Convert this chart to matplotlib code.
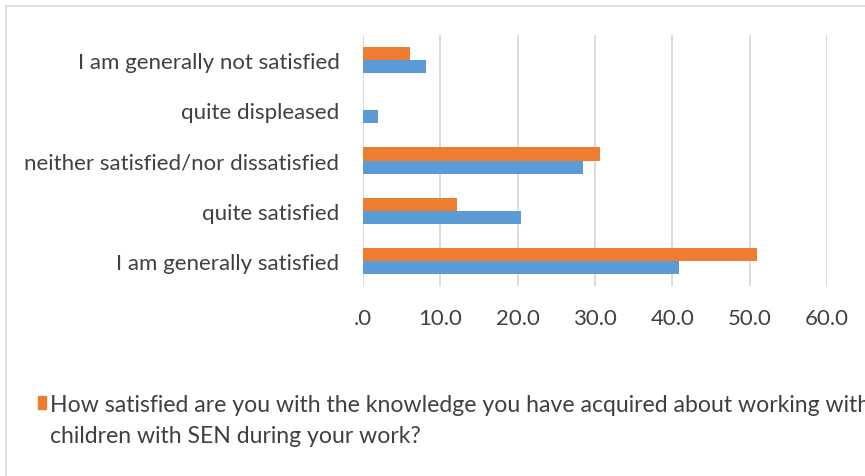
import numpy as np
import matplotlib
matplotlib.use('Agg')
import matplotlib.pyplot as plt
from matplotlib.patches import Rectangle
from matplotlib.lines import Line2D

plt.rcParams['font.family'] = ['Lato', 'DejaVu Sans']

# data (bottom to top as drawn)
categories = ['I am generally satisfied', 'quite satisfied',
              'neither satisfied/nor dissatisfied', 'quite displeased',
              'I am generally not satisfied']
orange_vals = [51.0, 12.2, 30.6, 0.0, 6.1]
blue_vals = [40.8, 20.4, 28.5, 2.0, 8.1]
xticks = [0, 10, 20, 30, 40, 50, 60]
xtick_labels = ['.0', '10.0', '20.0', '30.0', '40.0', '50.0', '60.0']
legend_lines = ['How satisfied are you with the knowledge you have acquired about working with',
                'children with SEN during your work?']

W, H = 865, 477
fig = plt.figure(figsize=(W / 100, H / 100), dpi=100)
ax = fig.add_axes([363 / W, 1 - 287 / H, (827 - 363) / W, (287 - 36) / H])

y = np.arange(len(categories))
h = 0.26
ax.barh(y - h / 2, blue_vals, height=h, color='#5B9BD5', zorder=3)
ax.barh(y + h / 2, orange_vals, height=h, color='#ED7D31', zorder=3)

ax.set_xlim(0, 60)
ax.set_ylim(-0.5, 4.5)
ax.set_xticks(xticks)
ax.set_xticklabels(xtick_labels)
ax.set_yticks(y)
ax.set_yticklabels(categories)
ax.grid(axis='x', color='#D9D9D9', linewidth=1.3, zorder=0)
ax.tick_params(axis='both', length=0, labelsize=16, colors='#404040')
ax.tick_params(axis='x', pad=16)
ax.tick_params(axis='y', pad=17)
for s in ax.spines.values():
    s.set_visible(False)

# outer chart border (cropped on right/bottom)
fig.add_artist(Line2D([6 / W, 6 / W], [0, 1 - 7 / H], transform=fig.transFigure,
                      color='#D9D9D9', linewidth=1.2))
fig.add_artist(Line2D([6 / W, 1], [1 - 7 / H, 1 - 7 / H], transform=fig.transFigure,
                      color='#D9D9D9', linewidth=1.2))

# legend
fig.add_artist(Rectangle((38 / W, 1 - 410 / H), 8 / W, 13 / H, transform=fig.transFigure,
                         color='#ED7D31'))
fig.text(50 / W, 1 - 405 / H, legend_lines[0], fontsize=16.6, color='#404040',
         va='center', ha='left')
fig.text(50 / W, 1 - 437 / H, legend_lines[1], fontsize=16.6, color='#404040',
         va='center', ha='left')

fig.savefig('out.png', dpi=100)
